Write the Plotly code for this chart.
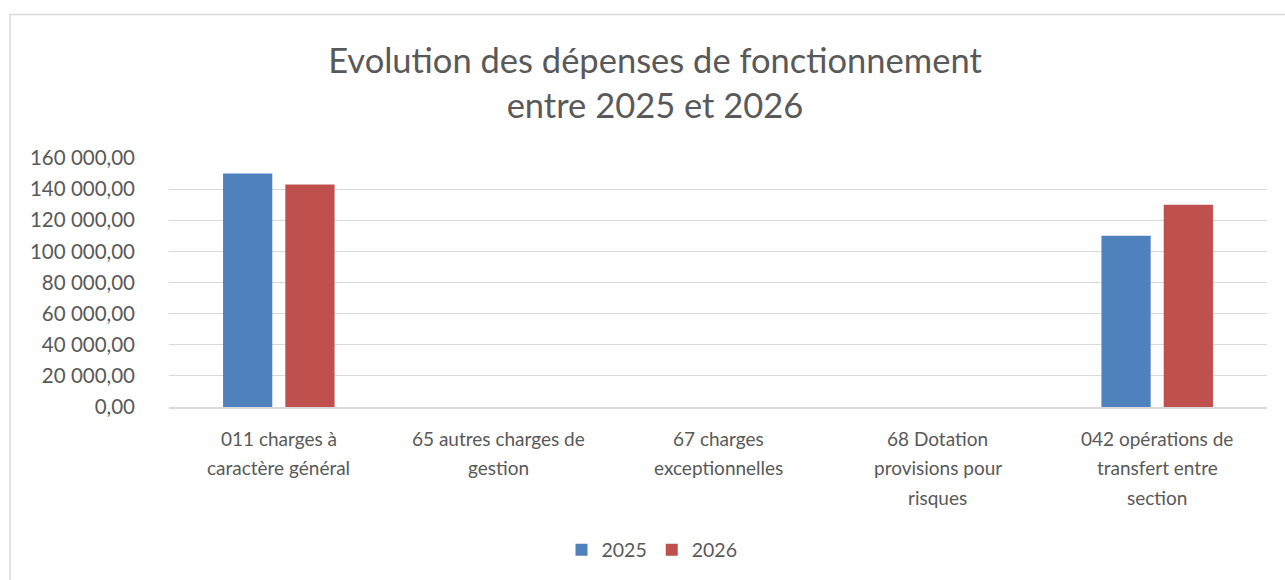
import plotly.graph_objects as go

categories = [
    "011 charges à<br>caractère général",
    "65 autres charges de<br>gestion",
    "67 charges<br>exceptionnelles",
    "68 Dotation<br>provisions pour<br>risques",
    "042 opérations de<br>transfert entre<br>section",
]
values_2025 = [150000, 0, 0, 0, 110000]
values_2026 = [143000, 0, 0, 0, 130000]
series_names = ["2025", "2026"]
y_ticks = [0, 20000, 40000, 60000, 80000, 100000, 120000, 140000, 160000]

W, H = 1285, 580
L, R, T, B = 169, 1267, 158, 408
FONT = "Lato, Carlito, Calibri, sans-serif"
GREY = "#595959"

fig = go.Figure()
fig.add_trace(go.Bar(x=categories, y=values_2025, name=series_names[0],
                     marker=dict(color="#4F81BD", line=dict(width=0))))
fig.add_trace(go.Bar(x=categories, y=values_2026, name=series_names[1],
                     marker=dict(color="#C0504D", line=dict(width=0))))

pw, ph = R - L, B - T
def px(x):
    return (x - L) / pw
def py(y):
    return (B - y) / ph

fig.add_shape(type="rect", xref="paper", yref="paper",
              x0=px(10), x1=px(1295), y0=py(600), y1=py(14),
              line=dict(color="#d9d9d9", width=1.5), fillcolor="rgba(0,0,0,0)", layer="below")

# category labels, one annotation per line to mimic the wider line spacing
for cat in categories:
    for i, line in enumerate(cat.split("<br>")):
        fig.add_annotation(x=cat, y=0, xref="x", yref="y", text=line, showarrow=False,
                           xanchor="center", yanchor="middle", yshift=-(31 + 29.5 * i),
                           font=dict(family=FONT, size=19, color=GREY))

fig.update_layout(
    width=W, height=H,
    margin=dict(l=L, r=W - R, t=T, b=H - B),
    paper_bgcolor="white", plot_bgcolor="white",
    separators=", ",
    font=dict(family=FONT, size=19, color=GREY),
    title=dict(text="Evolution des dépenses de fonctionnement<br>entre 2025 et 2026",
               x=655 / W, xanchor="center", y=1 - 73 / H, yanchor="middle",
               yref="container", xref="container",
               font=dict(family=FONT, size=34.5, color=GREY)),
    barmode="group", bargap=0.433, bargroupgap=0.209,
    showlegend=True,
    legend=dict(orientation="h", x=px(652), xanchor="center", y=py(550), yanchor="middle",
                font=dict(family=FONT, size=19.5, color=GREY), itemwidth=30,
                traceorder="normal"),
    xaxis=dict(showline=True, linecolor="#d9d9d9", linewidth=1.5, showgrid=False,
               ticks="", showticklabels=False, fixedrange=True),
    yaxis=dict(range=[0, 160000], tickvals=y_ticks, tickformat=",.2f",
               showgrid=True, gridcolor="#d9d9d9", gridwidth=1.2,
               zeroline=False, showline=False, ticks="",
               ticklabelstandoff=33, fixedrange=True,
               tickfont=dict(family=FONT, size=20.5, color=GREY)),
)

fig.write_html("out.html", config={"displayModeBar": False},
               post_script="document.body.style.margin='0';")
